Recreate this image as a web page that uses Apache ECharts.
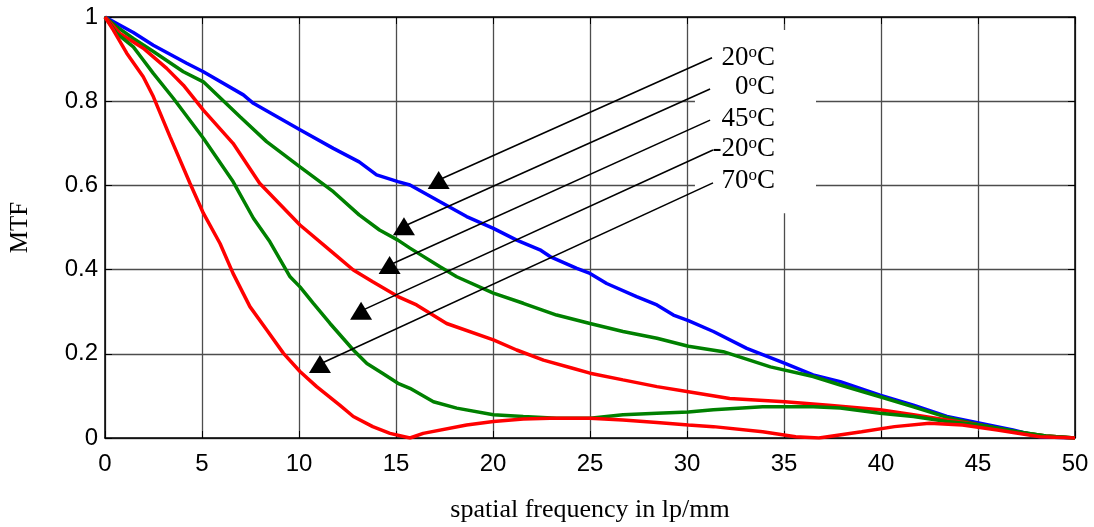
<!DOCTYPE html>
<html>
<head>
<meta charset="utf-8">
<script src="https://cdn.jsdelivr.net/npm/echarts@6/dist/echarts.min.js"></script>
<style>
  html, body { margin: 0; padding: 0; background: #fff; }
  #main { width: 1094px; height: 527px; }
</style>
</head>
<body>
<div id="main"></div>
<script>
// MTF curves, [spatial frequency, MTF]
var freq20 = [0, 1.46, 2.49, 4.21, 5.07, 7.13, 7.65, 10.05, 11.77, 13.1, 14.0, 15.1, 15.72, 17.27, 18.64, 20.02, 21.22, 22.42, 22.94, 24.32, 25.0, 25.86, 27.4, 28.45, 29.3, 30.07, 31.36, 33.08, 35.05, 36.5, 37.9, 39.95, 41.67, 43.4, 45.1, 46.8, 48.2, 50];
var mtf20 = [1, 0.963, 0.933, 0.890, 0.870, 0.815, 0.795, 0.732, 0.688, 0.656, 0.625, 0.609, 0.601, 0.561, 0.526, 0.498, 0.470, 0.447, 0.431, 0.403, 0.391, 0.367, 0.336, 0.316, 0.292, 0.279, 0.253, 0.213, 0.177, 0.150, 0.134, 0.102, 0.078, 0.051, 0.035, 0.019, 0.003, 0];

var freq0 = [0, 0.6, 1.46, 2.49, 4.04, 5.07, 6.96, 8.33, 10.05, 11.77, 13.1, 14.15, 15.1, 15.72, 17.27, 18.13, 20.02, 21.56, 23.28, 25.0, 26.7, 28.45, 30.07, 31.87, 34.3, 36.5, 37.9, 39.95, 41.67, 43.4, 45.1, 47, 48.5, 50];
var mtf0 = [1, 0.977, 0.949, 0.918, 0.870, 0.846, 0.763, 0.704, 0.644, 0.585, 0.530, 0.494, 0.470, 0.451, 0.407, 0.383, 0.344, 0.320, 0.292, 0.272, 0.253, 0.237, 0.218, 0.205, 0.169, 0.146, 0.126, 0.098, 0.074, 0.049, 0.031, 0.015, 0.005, 0];

var freq45 = [0, 0.77, 1.97, 3.18, 4.04, 5.07, 6.6, 7.97, 10.05, 11.77, 12.8, 13.8, 15.1, 16.06, 17.61, 20.02, 21.22, 22.6, 24.15, 25.0, 26.7, 28.45, 30.07, 32.2, 35.05, 37.3, 39.95, 41.67, 43.4, 45.1, 46.8, 48.5, 50];
var mtf45 = [1, 0.961, 0.926, 0.878, 0.838, 0.779, 0.700, 0.605, 0.506, 0.439, 0.399, 0.371, 0.336, 0.316, 0.272, 0.233, 0.209, 0.185, 0.165, 0.154, 0.138, 0.122, 0.110, 0.094, 0.086, 0.078, 0.067, 0.055, 0.043, 0.031, 0.015, 0.005, 0];

var freqM20 = [0, 0.6, 1.46, 1.97, 2.49, 3.52, 5.07, 6.6, 7.65, 8.5, 9.54, 10.05, 10.74, 11.6, 12.8, 13.5, 14.3, 15.1, 15.72, 16.93, 18.13, 20.02, 21.56, 23.28, 25.0, 26.7, 28.45, 30.07, 31.36, 33.9, 36.5, 37.9, 39.95, 41.67, 43.4, 45.1, 47, 48.5, 50];
var mtfM20 = [1, 0.961, 0.929, 0.898, 0.866, 0.807, 0.712, 0.609, 0.522, 0.466, 0.383, 0.359, 0.320, 0.272, 0.209, 0.177, 0.154, 0.130, 0.118, 0.086, 0.071, 0.055, 0.051, 0.047, 0.047, 0.055, 0.059, 0.062, 0.067, 0.074, 0.074, 0.071, 0.059, 0.051, 0.039, 0.031, 0.015, 0.005, 0];

var freq70 = [0, 0.43, 1.12, 1.97, 2.49, 3.35, 4.38, 5.07, 5.93, 6.6, 7.47, 8.33, 9.2, 10.05, 10.91, 12.1, 12.8, 13.8, 14.69, 15.72, 16.4, 18.64, 20.02, 21.56, 22.94, 25.0, 26.7, 28.45, 30.07, 31.36, 33.9, 35.6, 36.8, 39.0, 40.7, 42.5, 44.2, 46.0, 48.2, 50];
var mtf70 = [1, 0.969, 0.914, 0.858, 0.811, 0.716, 0.605, 0.534, 0.462, 0.391, 0.312, 0.257, 0.201, 0.158, 0.122, 0.078, 0.051, 0.027, 0.011, 0, 0.011, 0.031, 0.039, 0.045, 0.047, 0.047, 0.043, 0.037, 0.031, 0.027, 0.015, 0.003, 0, 0.015, 0.027, 0.035, 0.031, 0.019, 0.003, 0];

// annotations (data coordinates)
var tempLabels = ['20', '0', '45', '-20', '70'];
var labelAt = [[34.54, 0.903], [34.54, 0.833], [34.54, 0.758], [34.54, 0.686], [34.54, 0.610]];
var arrowFrom = [[31.29, 0.903], [31.19, 0.829], [31.19, 0.755], [31.34, 0.684], [31.34, 0.606]];
var arrowTo = [[17.2, 0.613], [15.41, 0.503], [14.67, 0.411], [13.2, 0.302], [11.08, 0.176]];
var labelBox = [[30.41, 0.969], [36.65, 0.534]];

function zip(xs, ys) {
  var out = [];
  for (var i = 0; i < xs.length; i++) out.push([xs[i], ys[i]]);
  return out;
}

var chart = echarts.init(document.getElementById('main'));

function curve(name, xs, ys, color) {
  return {
    name: name,
    type: 'line',
    data: zip(xs, ys),
    showSymbol: false,
    symbol: 'none',
    lineStyle: { color: color, width: 3.5 },
    z: 3
  };
}

var series = [
  {
    // white box behind the temperature labels
    type: 'line',
    data: [],
    z: 1,
    silent: true,
    markArea: {
      silent: true,
      itemStyle: { color: '#fff', opacity: 1 },
      data: [[{ coord: labelBox[0] }, { coord: labelBox[1] }]]
    }
  },
  curve('20', freq20, mtf20, '#0000ff'),
  curve('0', freq0, mtf0, '#008000'),
  curve('45', freq45, mtf45, '#ff0000'),
  curve('-20', freqM20, mtfM20, '#008000'),
  curve('70', freq70, mtf70, '#ff0000')
];

for (var i = 0; i < arrowFrom.length; i++) {
  series.push({
    type: 'line',
    data: [arrowFrom[i], arrowTo[i]],
    symbol: 'none',
    lineStyle: { color: '#000', width: 1.6, opacity: 1 },
    z: 4,
    silent: true
  });
}

series.push({
  type: 'scatter',
  data: arrowTo,
  symbol: 'triangle',
  symbolSize: [22, 18],
  itemStyle: { color: '#000', opacity: 1 },
  z: 5,
  silent: true
});

series.push({
  type: 'scatter',
  data: labelAt.map(function (p, i) { return { value: p, name: tempLabels[i] }; }),
  symbolSize: 0,
  itemStyle: { opacity: 1 },
  z: 5,
  silent: true,
  label: {
    show: true,
    position: 'left',
    distance: 0,
    opacity: 1,
    formatter: function (p) { return '{t|' + p.name + '}{s|o}{t|C}'; },
    rich: {
      t: { fontFamily: 'Liberation Serif', fontSize: 27, color: '#000', lineHeight: 28 },
      s: { fontFamily: 'Liberation Serif', fontSize: 17, color: '#000', verticalAlign: 'top', lineHeight: 16 }
    }
  }
});

var option = {
  animation: false,
  backgroundColor: '#fff',
  grid: { left: 105, right: 19, top: 17, bottom: 89, outerBoundsMode: 'none', containLabel: false },
  xAxis: [
    {
      type: 'value', min: 0, max: 50, interval: 5, position: 'bottom',
      name: 'spatial frequency in lp/mm', nameLocation: 'middle', nameGap: 59,
      nameTextStyle: { fontFamily: 'Liberation Serif', fontSize: 26, color: '#000' },
      axisLine: { onZero: false, lineStyle: { color: '#000', width: 1.5 } },
      axisTick: { inside: true, length: 7, lineStyle: { color: '#000' } },
      axisLabel: { color: '#000', fontFamily: 'Liberation Sans', fontSize: 24, margin: 14 },
      splitLine: { show: true, lineStyle: { color: '#4d4d4d', width: 1.3 } }
    },
    {
      type: 'value', min: 0, max: 50, interval: 5, position: 'top',
      axisLine: { onZero: false, lineStyle: { color: '#000', width: 1.5 } },
      axisTick: { inside: true, length: 7, lineStyle: { color: '#000' } },
      axisLabel: { show: false },
      splitLine: { show: false }
    }
  ],
  yAxis: [
    {
      type: 'value', min: 0, max: 1, interval: 0.2, position: 'left',
      name: 'MTF', nameLocation: 'middle', nameGap: 72, nameRotate: 90,
      nameTextStyle: { fontFamily: 'Liberation Serif', fontSize: 25, color: '#000' },
      axisLine: { onZero: false, lineStyle: { color: '#000', width: 1.5 } },
      axisTick: { inside: true, length: 7, lineStyle: { color: '#000' } },
      axisLabel: { color: '#000', fontFamily: 'Liberation Sans', fontSize: 24, margin: 7 },
      splitLine: { show: true, lineStyle: { color: '#4d4d4d', width: 1.3 } }
    },
    {
      type: 'value', min: 0, max: 1, interval: 0.2, position: 'right',
      axisLine: { onZero: false, lineStyle: { color: '#000', width: 1.5 } },
      axisTick: { inside: true, length: 7, lineStyle: { color: '#000' } },
      axisLabel: { show: false },
      splitLine: { show: false }
    }
  ],
  series: series
};

chart.setOption(option);
</script>
</body>
</html>
